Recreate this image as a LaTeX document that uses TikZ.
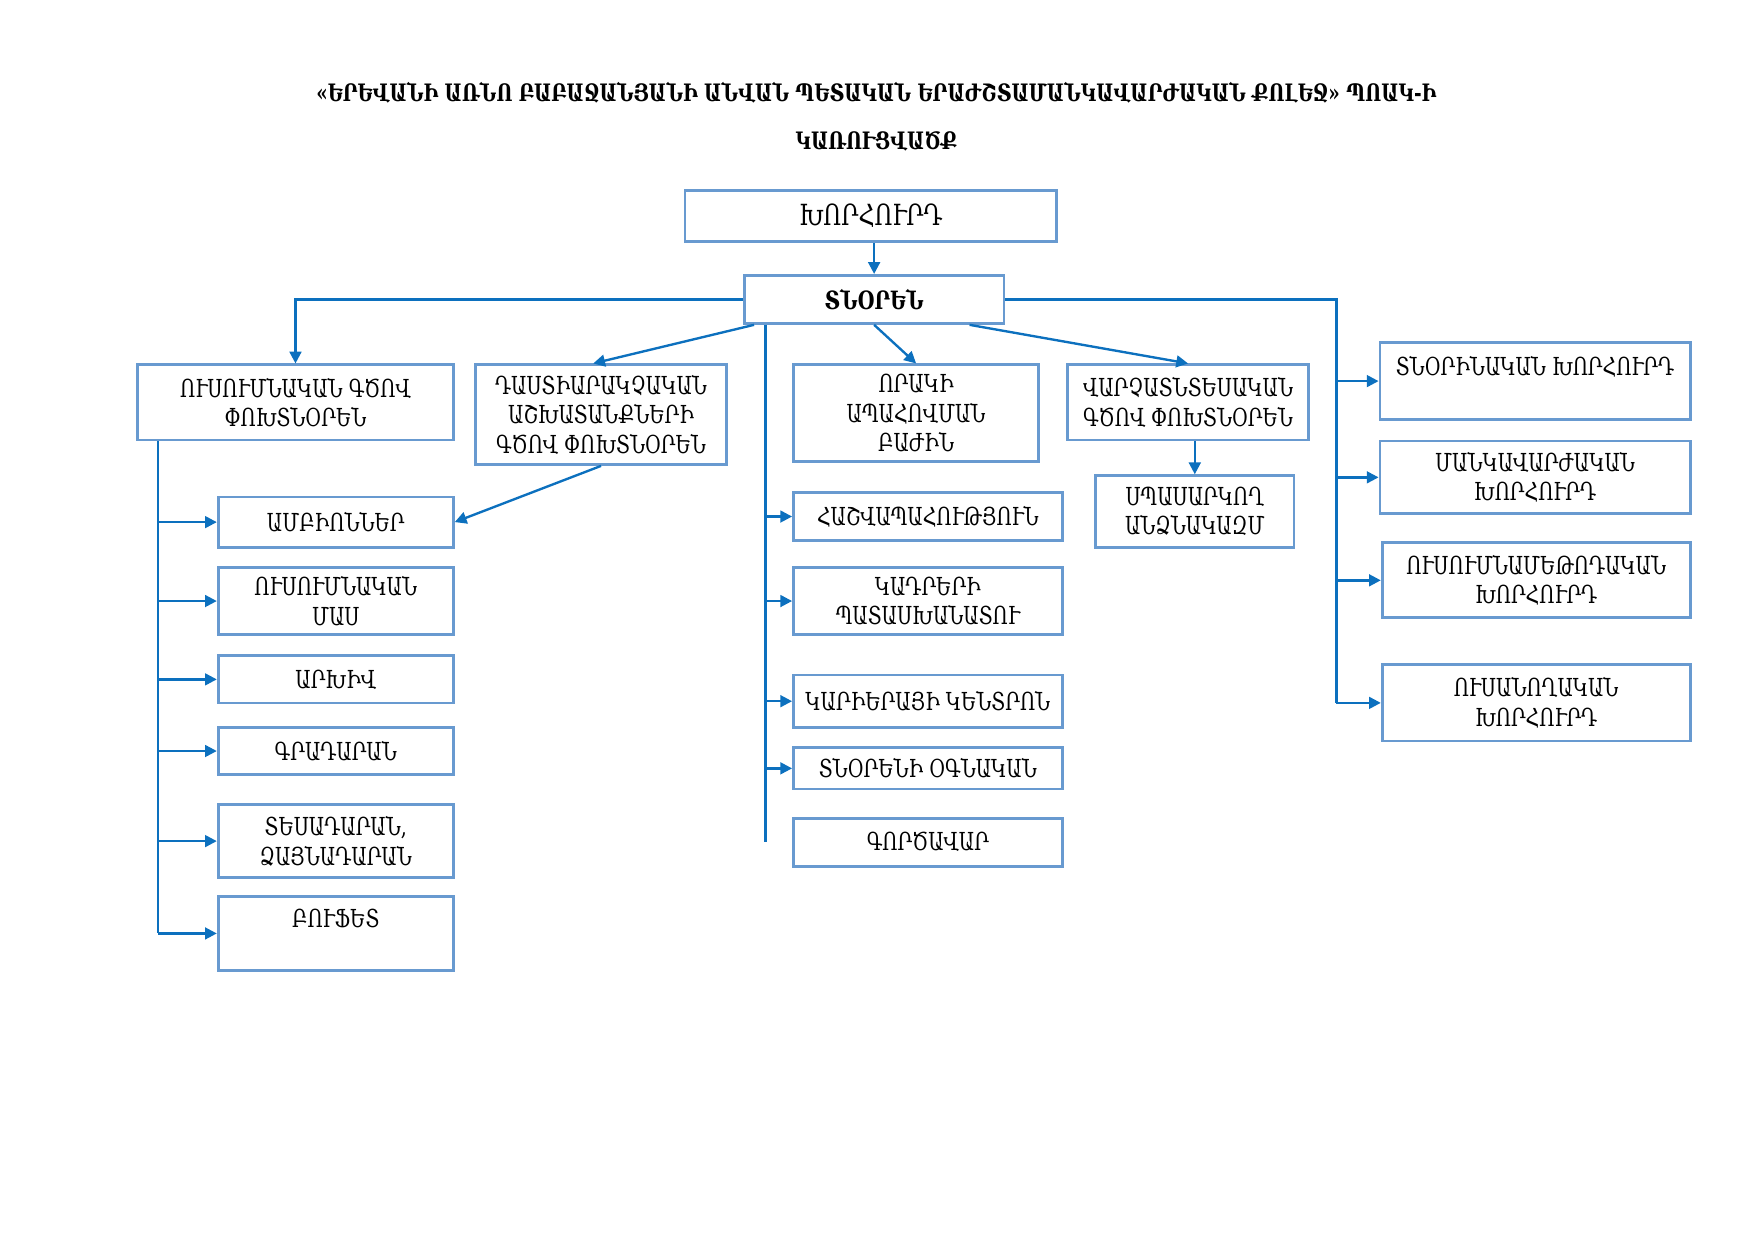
\documentclass[tikz,border=0pt]{standalone}
\usepackage{fontspec}
\setmainfont[FakeStretch=0.85]{DejaVu Serif Condensed}
\usetikzlibrary{positioning}
\usetikzlibrary{arrows.meta}
\definecolor{boxblue}{RGB}{104,154,208}
\definecolor{linkblue}{RGB}{12,112,190}
\tikzset{
    unit/.style={
        draw=boxblue,
        line width=0.7pt,
        align=center,
        inner sep=1pt,
        font=\fontsize{6.3}{7.5}\selectfont},
    chief/.style={
        unit,
        font=\fontsize{7.4}{9}\selectfont},
    title/.style={
        font=\bfseries\fontsize{6.1}{8}\selectfont},
    link/.style={
        draw=linkblue,
        line width=0.6pt},
    >={Triangle[length=3pt,width=3pt]},
    every edge/.style={
        draw=linkblue,
        line width=0.6pt,
        ->}}

\begin{document}
\begin{tikzpicture}[x=0.01cm,y=-0.01cm]
        \useasboundingbox (0,0) rectangle (1568,1108.8);

        \node[title] (name) at (783,83) {«ԵՐԵՎԱՆԻ ԱՌՆՈ ԲԱԲԱՋԱՆՅԱՆԻ ԱՆՎԱՆ ՊԵՏԱԿԱՆ ԵՐԱԺՇՏԱՄԱՆԿԱՎԱՐԺԱԿԱՆ ՔՈԼԵՋ» ՊՈԱԿ-Ի};
        \node[title] (kind) at (783,126) {ԿԱՌՈՒՑՎԱԾՔ};

        \node[chief, minimum width=3.32cm, minimum height=0.46cm] (khorhurd) at (778,193) {ԽՈՐՀՈՒՐԴ};
        \node[chief, font=\bfseries\fontsize{6.4}{8}\selectfont, minimum width=2.32cm, minimum height=0.43cm] (tnoren) at (781,267.5) {ՏՆՕՐԵՆ};

        % deputies
        \node[unit, minimum width=2.82cm, minimum height=0.67cm] (usum) at (264,359.5) {ՈՒՍՈՒՄՆԱԿԱՆ ԳԾՈՎ\\ՓՈԽՏՆՕՐԵՆ};
        \node[unit, minimum width=2.24cm, minimum height=0.89cm] (dastiar) at (537,370.5) {ԴԱՍՏԻԱՐԱԿՉԱԿԱՆ\\ԱՇԽԱՏԱՆՔՆԵՐԻ\\ԳԾՈՎ ՓՈԽՏՆՕՐԵՆ};
        \node[unit, minimum width=2.19cm, minimum height=0.86cm] (orak) at (818.5,369) {ՈՐԱԿԻ\\ԱՊԱՀՈՎՄԱՆ\\ԲԱԺԻՆ};
        \node[unit, minimum width=2.15cm, minimum height=0.67cm] (varch) at (1061.5,359.5) {ՎԱՐՉԱՏՆՏԵՍԱԿԱՆ\\ԳԾՈՎ ՓՈԽՏՆՕՐԵՆ};
        \node[unit, minimum width=1.77cm, minimum height=0.64cm] (spas) at (1067.5,457) {ՍՊԱՍԱՐԿՈՂ\\ԱՆՁՆԱԿԱԶՄ};

        % councils
        \node[unit, minimum width=2.77cm, minimum height=0.69cm] (tnorin) at (1371.5,340.5) {ՏՆՕՐԻՆԱԿԱՆ ԽՈՐՀՈՒՐԴ\\ \mbox{}};
        \node[unit, minimum width=2.77cm, minimum height=0.65cm] (mankav) at (1371.5,426.5) {ՄԱՆԿԱՎԱՐԺԱԿԱՆ\\ԽՈՐՀՈՒՐԴ};
        \node[unit, minimum width=2.75cm, minimum height=0.67cm] (usmet) at (1372.5,518.5) {ՈՒՍՈՒՄՆԱՄԵԹՈԴԱԿԱՆ\\ԽՈՐՀՈՒՐԴ};
        \node[unit, minimum width=2.75cm, minimum height=0.68cm] (usan) at (1372.5,628) {ՈՒՍԱՆՈՂԱԿԱՆ\\ԽՈՐՀՈՒՐԴ};

        % left column
        \node[unit, minimum width=2.10cm, minimum height=0.45cm] (ambion) at (300,466.5) {ԱՄԲԻՈՆՆԵՐ};
        \node[unit, minimum width=2.10cm, minimum height=0.60cm] (usmas) at (300,537) {ՈՒՍՈՒՄՆԱԿԱՆ\\ՄԱՍ};
        \node[unit, minimum width=2.10cm, minimum height=0.42cm] (arkhiv) at (300,607) {ԱՐԽԻՎ};
        \node[unit, minimum width=2.10cm, minimum height=0.42cm] (gradaran) at (300,671) {ԳՐԱԴԱՐԱՆ};
        \node[unit, minimum width=2.10cm, minimum height=0.65cm] (tesad) at (300,751.5) {ՏԵՍԱԴԱՐԱՆ,\\ՁԱՅՆԱԴԱՐԱՆ};
        \node[unit, minimum width=2.10cm, minimum height=0.66cm] (bufet) at (300,834) {ԲՈՒՖԵՏ\\ \mbox{}};

        % middle column
        \node[unit, minimum width=2.40cm, minimum height=0.43cm] (hashv) at (829,461.5) {ՀԱՇՎԱՊԱՀՈՒԹՅՈՒՆ};
        \node[unit, minimum width=2.40cm, minimum height=0.60cm] (kadr) at (829,537) {ԿԱԴՐԵՐԻ\\ՊԱՏԱՍԽԱՆԱՏՈՒ};
        \node[unit, minimum width=2.40cm, minimum height=0.47cm] (karier) at (829,626.5) {ԿԱՐԻԵՐԱՅԻ ԿԵՆՏՐՈՆ};
        \node[unit, minimum width=2.40cm, minimum height=0.37cm] (ognakan) at (829,686.5) {ՏՆՕՐԵՆԻ ՕԳՆԱԿԱՆ};
        \node[unit, minimum width=2.40cm, minimum height=0.43cm] (gortsavar) at (829,752.5) {ԳՈՐԾԱՎԱՐ};

        \coordinate (lbus) at (141,0);
        \coordinate (mbus) at (684,0);
        \coordinate (rbus) at (1194,0);

        \draw (tnoren.north |- khorhurd.south) edge (tnoren.north);
        \draw[link,->] (tnoren.west) -| (usum.north);
        \draw ([xshift=0.1cm]tnoren.south west) edge ([xshift=-0.07cm]dastiar.north);
        \draw (tnoren.south) edge (orak.north);
        \draw ([xshift=-0.32cm]tnoren.south east) edge (varch.north);
        \draw (dastiar.south) edge (ambion.east);
        \draw (spas.north |- varch.south) edge (spas.north);

        \draw[link] (lbus |- usum.south) -- (lbus |- bufet.west);
        \foreach \n in {ambion,usmas,arkhiv,gradaran,tesad,bufet}
            \draw (lbus |- \n.west) edge (\n.west);

        \draw[link] (mbus |- tnoren.south) -- (mbus |- gortsavar.west);
        \foreach \n in {hashv,kadr,karier,ognakan}
            \draw (mbus |- \n.west) edge (\n.west);

        \draw[link] (tnoren.east) -| (rbus |- usan.west);
        \foreach \n in {tnorin,mankav,usmet,usan}
            \draw (rbus |- \n.west) edge (\n.west);
    \end{tikzpicture}
\end{document}
